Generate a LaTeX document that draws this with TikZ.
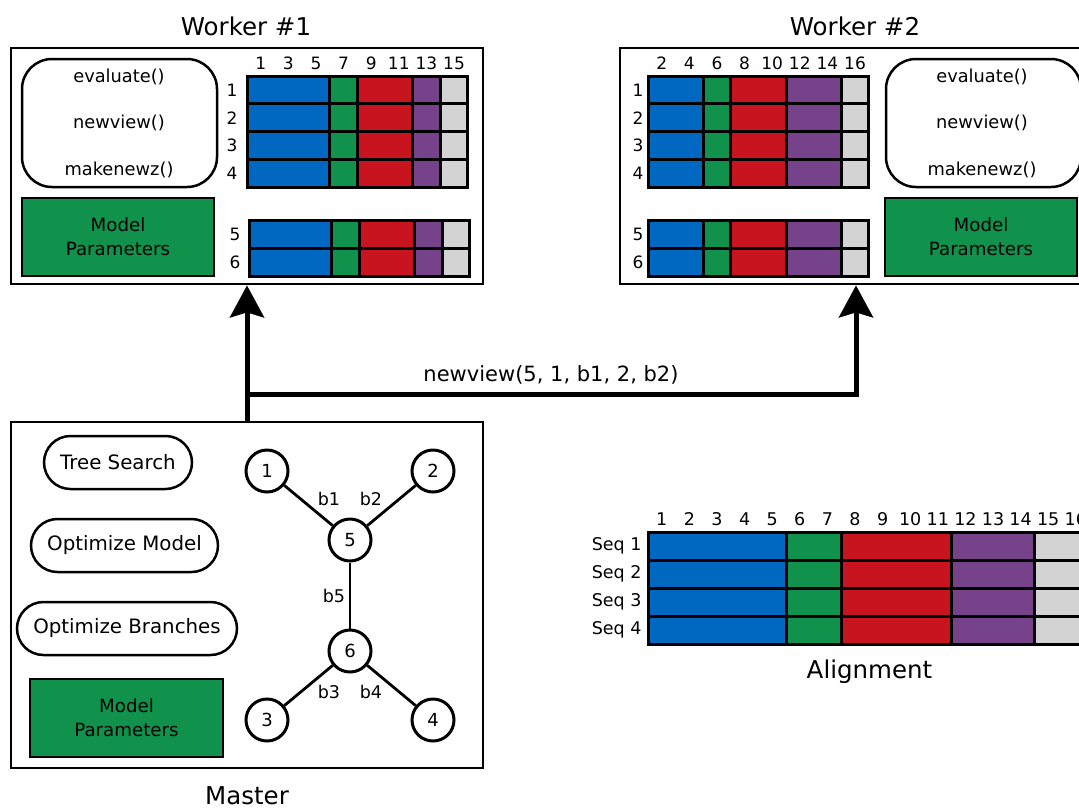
\documentclass[tikz,border=0pt]{standalone}
\usepackage{fontspec}
\setmainfont{DejaVu Sans}
\usetikzlibrary{arrows.meta}
\definecolor{cblue}{HTML}{0068C0}
\definecolor{cgreen}{HTML}{10924C}
\definecolor{cred}{HTML}{C8141E}
\definecolor{cpurple}{HTML}{76428A}
\definecolor{cgray}{HTML}{D3D3D3}
\tikzset{
  frame/.style={draw, line width=2.8pt, minimum width=472pt, inner sep=0pt},
  title/.style={font=\fontsize{24.5}{28}\selectfont},
  func/.style={draw, line width=2.5pt, rounded corners=30pt, minimum width=195pt, minimum height=128pt, inner sep=0pt},
  ftext/.style={font=\fontsize{17.8}{20}\selectfont},
  params/.style={draw, line width=2.8pt, fill=cgreen, minimum height=78pt, align=center, inner sep=0pt, font=\fontsize{18.2}{24}\selectfont},
  stadium/.style={draw, line width=2.5pt, rounded corners=26.5pt, minimum height=53pt, inner sep=0pt, font=\fontsize{19.8}{22}\selectfont},
  tnode/.style={draw, circle, line width=3pt, minimum size=42pt, inner sep=0pt, font=\fontsize{18}{20}\selectfont},
  tedge/.style={line width=2.8pt},
  blab/.style={font=\fontsize{17.5}{19}\selectfont},
  cell/.style={draw, line width=3pt},
  collab/.style={font=\fontsize{17}{19}\selectfont},
  alab/.style={font=\fontsize{17.5}{19}\selectfont},
  conn/.style={line width=5pt, -{Stealth[length=32pt, width=34pt, inset=5pt]}},
  msg/.style={font=\fontsize{21}{24}\selectfont}
}
\begin{document}
\begin{tikzpicture}[x=1pt,y=-1pt]
\useasboundingbox (0,0) rectangle (1079,807);

% ---------- Worker 1 ----------
\node[title] (w1title) at (246,26) {Worker \#1};
\node[frame, minimum height=236pt] (w1) at (247,166) {};
\node[func] (w1func) at (119.5,123) {};
\node[ftext] (w1eval) at (119,77) {evaluate()};
\node[ftext] (w1newv) at (119,123) {newview()};
\node[ftext] (w1make) at (119,170) {makenewz()};
\node[params, minimum width=192pt] (w1par) at (118,237) {Model\\Parameters};
\foreach \r in {0,...,3}{
  \foreach \a/\b/\c in {0/3/cblue,3/4/cgreen,4/6/cred,6/7/cpurple,7/8/cgray}{
    \draw[cell,fill=\c] (247+\a*27.6,76+\r*27.75) rectangle (247+\b*27.6,76+\r*27.75+27.75);
  }
}
\foreach \r in {0,1}{
  \foreach \a/\b/\c in {0/3/cblue,3/4/cgreen,4/6/cred,6/7/cpurple,7/8/cgray}{
    \draw[cell,fill=\c] (249+\a*27.6,220+\r*28) rectangle (249+\b*27.6,220+\r*28+28);
  }
}
\foreach \n [count=\k from 0] in {1,3,5,7,9,11,13,15}
  \node[collab] (w1c\n) at (247+13.8+\k*27.6,63) {\n};
\foreach \n [count=\k from 0] in {1,2,3,4}
  \node[collab] (w1r\n) at (232,90+\k*27.75) {\n};
\node[collab] (w1r5) at (235,234) {5};
\node[collab] (w1r6) at (235,262) {6};

% ---------- Worker 2 ----------
\node[title] (w2title) at (855,26) {Worker \#2};
\node[frame, minimum height=236pt] (w2) at (856,166) {};
\node[func] (w2func) at (983.5,123) {};
\node[ftext] (w2eval) at (982,77) {evaluate()};
\node[ftext] (w2newv) at (982,123) {newview()};
\node[ftext] (w2make) at (982,170) {makenewz()};
\node[params, minimum width=192pt] (w2par) at (981,237) {Model\\Parameters};
\foreach \r in {0,...,3}{
  \foreach \a/\b/\c in {0/2/cblue,2/3/cgreen,3/5/cred,5/7/cpurple,7/8/cgray}{
    \draw[cell,fill=\c] (648+\a*27.6,76+\r*27.75) rectangle (648+\b*27.6,76+\r*27.75+27.75);
  }
}
\foreach \r in {0,1}{
  \foreach \a/\b/\c in {0/2/cblue,2/3/cgreen,3/5/cred,5/7/cpurple,7/8/cgray}{
    \draw[cell,fill=\c] (648+\a*27.6,220+\r*28) rectangle (648+\b*27.6,220+\r*28+28);
  }
}
\foreach \n [count=\k from 0] in {2,4,6,8,10,12,14,16}
  \node[collab] (w2c\n) at (648+13.8+\k*27.6,63) {\n};
\foreach \n [count=\k from 0] in {1,2,3,4}
  \node[collab] (w2r\n) at (638,90+\k*27.75) {\n};
\node[collab] (w2r5) at (638,234) {5};
\node[collab] (w2r6) at (638,262) {6};

% ---------- Master ----------
\node[frame, minimum height=346pt] (master) at (247,595) {};
\node[title] (mtitle) at (247,796) {Master};
\node[stadium, minimum width=148pt] (tsearch) at (118,462.5) {Tree Search};
\node[stadium, minimum width=187pt] (optmod) at (124.5,545.5) {Optimize Model};
\node[stadium, minimum width=220pt] (optbr) at (127,628.5) {Optimize Branches};
\node[params, minimum width=193pt] (mpar) at (126.5,718) {Model\\Parameters};

\node[tnode] (t1) at (267,471) {1};
\node[tnode] (t2) at (433,471) {2};
\node[tnode] (t5) at (350,540) {5};
\node[tnode] (t6) at (350,651) {6};
\node[tnode] (t3) at (267,720) {3};
\node[tnode] (t4) at (433,720) {4};
\draw[tedge] (t1) -- (t5);
\draw[tedge] (t2) -- (t5);
\draw[tedge] (t5) -- (t6);
\draw[tedge] (t6) -- (t3);
\draw[tedge] (t6) -- (t4);
\node[blab] (lb1) at (329,499) {b1};
\node[blab] (lb2) at (371,499) {b2};
\node[blab] (lb5) at (334,596) {b5};
\node[blab] (lb3) at (329,692) {b3};
\node[blab] (lb4) at (371,692) {b4};

% ---------- Alignment ----------
\foreach \r in {0,...,3}{
  \foreach \a/\b/\c in {0/5/cblue,5/7/cgreen,7/11/cred,11/14/cpurple,14/16/cgray}{
    \draw[cell,fill=\c] (648+\a*27.6,532+\r*28) rectangle (648+\b*27.6,532+\r*28+28);
  }
}
\foreach \n [count=\k from 0] in {1,...,16}
  \node[alab] (ac\n) at (648+13.8+\k*27.6,519) {\n};
\foreach \n [count=\k from 0] in {1,2,3,4}
  \node[alab, anchor=east] (seq\n) at (645,546+\k*28) {Seq \n};
\node[title] (atitle) at (869.5,672) {Alignment};

% ---------- Connectors ----------
\coordinate (j1) at (247,394);
\draw[conn] (master.north) -- (w1.south);
\draw[conn] (j1) -- (j1 -| w2.south) -- (w2.south);
\node[msg] (msglab) at (551,375) {newview(5, 1, b1, 2, b2)};
\end{tikzpicture}
\end{document}
